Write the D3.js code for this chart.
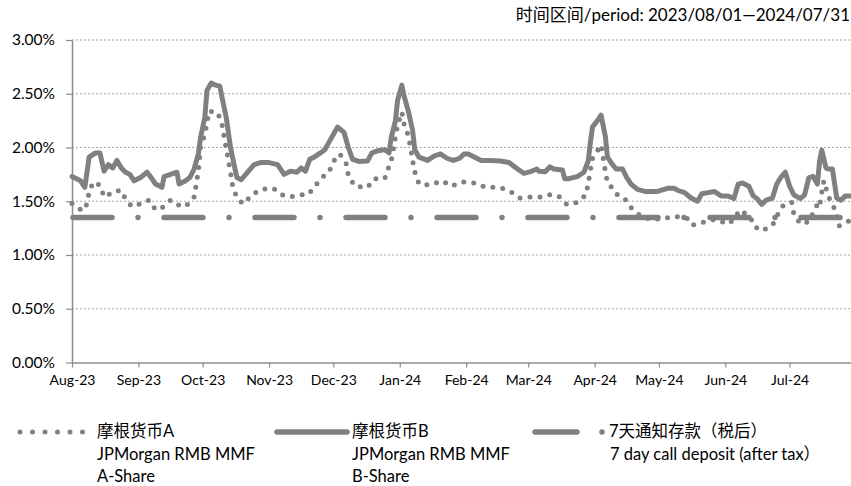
<!DOCTYPE html>
<html>
<head>
<meta charset="utf-8">
<script src="https://cdn.jsdelivr.net/npm/d3@7"></script>
<style>
  body { margin: 0; background: #fff; }
  svg { display: block; font-family: Lato, "Noto Sans CJK SC", sans-serif; }
</style>
</head>
<body>
<div id="chart"></div>
<script>
// Series A (dotted)
var datesA = ['2023-08-01','2023-08-06','2023-08-08','2023-08-09','2023-08-11','2023-08-14','2023-08-16','2023-08-18','2023-08-20','2023-08-24','2023-08-26','2023-08-29','2023-09-01','2023-09-06','2023-09-09','2023-09-12','2023-09-16','2023-09-19','2023-09-23','2023-09-27','2023-09-28','2023-09-29','2023-09-30','2023-10-02','2023-10-03','2023-10-04','2023-10-08','2023-10-10','2023-10-11','2023-10-12','2023-10-13','2023-10-14','2023-10-15','2023-10-17','2023-10-20','2023-10-24','2023-10-28','2023-11-03','2023-11-07','2023-11-11','2023-11-15','2023-11-19','2023-11-22','2023-11-25','2023-11-29','2023-12-01','2023-12-04','2023-12-07','2023-12-08','2023-12-11','2023-12-17','2023-12-20','2023-12-25','2023-12-26','2023-12-28','2023-12-29','2023-12-30','2023-12-31','2024-01-02','2024-01-03','2024-01-05','2024-01-06','2024-01-07','2024-01-08','2024-01-10','2024-01-15','2024-01-21','2024-01-25','2024-01-30','2024-02-05','2024-02-10','2024-02-16','2024-02-21','2024-02-26','2024-03-02','2024-03-07','2024-03-11','2024-03-15','2024-03-19','2024-03-24','2024-03-28','2024-03-29','2024-03-30','2024-03-31','2024-04-03','2024-04-04','2024-04-05','2024-04-06','2024-04-07','2024-04-09','2024-04-12','2024-04-15','2024-04-18','2024-04-22','2024-04-27','2024-05-03','2024-05-09','2024-05-13','2024-05-15','2024-05-17','2024-05-21','2024-05-26','2024-05-30','2024-06-03','2024-06-08','2024-06-13','2024-06-14','2024-06-18','2024-06-23','2024-06-25','2024-06-28','2024-07-02','2024-07-03','2024-07-06','2024-07-10','2024-07-14','2024-07-15','2024-07-16','2024-07-17','2024-07-19','2024-07-23','2024-07-24','2024-07-28','2024-07-31'];
var valuesA = [1.48,1.41,1.475,1.59,1.68,1.65,1.54,1.56,1.59,1.60,1.52,1.45,1.47,1.51,1.42,1.44,1.51,1.47,1.45,1.54,1.66,1.78,2.00,2.125,2.225,2.34,2.325,2.22,2.10,1.99,1.88,1.77,1.64,1.53,1.475,1.56,1.61,1.62,1.56,1.54,1.56,1.56,1.625,1.71,1.77,1.87,1.94,1.85,1.74,1.64,1.63,1.71,1.71,1.77,1.875,1.98,2.10,2.21,2.33,2.22,2.11,2.00,1.88,1.775,1.66,1.65,1.69,1.64,1.68,1.67,1.63,1.63,1.60,1.53,1.54,1.54,1.56,1.55,1.47,1.49,1.56,1.67,1.79,1.90,1.99,2.025,1.90,1.78,1.67,1.63,1.55,1.525,1.44,1.37,1.33,1.34,1.36,1.34,1.34,1.28,1.30,1.33,1.31,1.29,1.42,1.34,1.275,1.225,1.275,1.36,1.46,1.49,1.38,1.29,1.31,1.475,1.45,1.58,1.69,1.55,1.39,1.27,1.31,1.33];

// Series B (solid)
var datesB = ['2023-08-01','2023-08-05','2023-08-07','2023-08-09','2023-08-12','2023-08-14','2023-08-16','2023-08-18','2023-08-20','2023-08-22','2023-08-24','2023-08-26','2023-08-28','2023-08-30','2023-09-02','2023-09-05','2023-09-07','2023-09-09','2023-09-12','2023-09-13','2023-09-16','2023-09-19','2023-09-20','2023-09-23','2023-09-25','2023-09-27','2023-09-29','2023-09-30','2023-10-02','2023-10-03','2023-10-05','2023-10-07','2023-10-09','2023-10-10','2023-10-12','2023-10-14','2023-10-16','2023-10-17','2023-10-19','2023-10-22','2023-10-25','2023-10-28','2023-11-01','2023-11-05','2023-11-08','2023-11-11','2023-11-14','2023-11-16','2023-11-18','2023-11-20','2023-11-22','2023-11-25','2023-11-27','2023-11-29','2023-12-01','2023-12-03','2023-12-06','2023-12-08','2023-12-10','2023-12-13','2023-12-17','2023-12-19','2023-12-22','2023-12-25','2023-12-27','2023-12-28','2023-12-30','2023-12-31','2024-01-02','2024-01-03','2024-01-05','2024-01-07','2024-01-08','2024-01-10','2024-01-14','2024-01-17','2024-01-20','2024-01-23','2024-01-26','2024-01-29','2024-01-31','2024-02-02','2024-02-05','2024-02-08','2024-02-12','2024-02-17','2024-02-21','2024-02-25','2024-02-28','2024-03-02','2024-03-05','2024-03-06','2024-03-09','2024-03-11','2024-03-13','2024-03-17','2024-03-18','2024-03-20','2024-03-24','2024-03-27','2024-03-29','2024-03-30','2024-03-31','2024-04-03','2024-04-04','2024-04-06','2024-04-07','2024-04-09','2024-04-11','2024-04-14','2024-04-16','2024-04-18','2024-04-21','2024-04-25','2024-04-30','2024-05-05','2024-05-08','2024-05-10','2024-05-13','2024-05-16','2024-05-19','2024-05-21','2024-05-24','2024-05-27','2024-05-30','2024-06-02','2024-06-05','2024-06-07','2024-06-09','2024-06-12','2024-06-14','2024-06-16','2024-06-18','2024-06-20','2024-06-23','2024-06-25','2024-06-27','2024-06-29','2024-07-01','2024-07-03','2024-07-06','2024-07-08','2024-07-10','2024-07-12','2024-07-14','2024-07-15','2024-07-16','2024-07-18','2024-07-19','2024-07-21','2024-07-23','2024-07-25','2024-07-27','2024-07-31'];
var valuesB = [1.73,1.69,1.63,1.91,1.95,1.95,1.78,1.84,1.81,1.88,1.81,1.77,1.75,1.69,1.72,1.77,1.72,1.66,1.63,1.73,1.75,1.77,1.66,1.69,1.72,1.80,1.94,2.09,2.28,2.53,2.60,2.58,2.57,2.47,2.28,2.00,1.81,1.72,1.70,1.77,1.84,1.86,1.86,1.84,1.75,1.78,1.77,1.81,1.78,1.89,1.91,1.95,1.98,2.05,2.12,2.19,2.14,2.00,1.89,1.87,1.875,1.95,1.97,1.98,1.95,2.09,2.25,2.44,2.58,2.48,2.34,2.16,1.98,1.91,1.88,1.92,1.94,1.90,1.88,1.90,1.94,1.94,1.91,1.88,1.88,1.875,1.86,1.80,1.76,1.775,1.80,1.78,1.775,1.82,1.80,1.79,1.71,1.71,1.73,1.77,1.875,2.05,2.19,2.27,2.30,2.10,1.91,1.85,1.80,1.80,1.72,1.66,1.61,1.59,1.59,1.62,1.62,1.60,1.58,1.53,1.50,1.57,1.58,1.59,1.55,1.55,1.525,1.66,1.67,1.64,1.55,1.52,1.47,1.51,1.53,1.66,1.725,1.77,1.64,1.56,1.525,1.56,1.72,1.73,1.66,1.875,1.975,1.81,1.80,1.80,1.53,1.51,1.55,1.55];

// 7-day call deposit (after tax), flat rate
var depositDates = ['2023-08-01', '2024-07-31'];
var depositRate = 1.35;

var yTicks = [0, 0.5, 1, 1.5, 2, 2.5, 3];
var periodLabel = '时间区间/period: 2023/08/01—2024/07/31';
var legendItems = [
  { lines: ['摩根货币A', 'JPMorgan RMB MMF', 'A-Share'], kind: 'a' },
  { lines: ['摩根货币B', 'JPMorgan RMB MMF', 'B-Share'], kind: 'b' },
  { lines: ['7天通知存款（税后）', '7 day call deposit (after tax）'], kind: 'dep' }
];

var W = 851, H = 486;
var grey = '#808080';
var parse = d3.timeParse('%Y-%m-%d');

var x = d3.scaleTime()
  .domain([parse('2023-08-01'), parse('2024-08-01')])
  .range([72, 856]);
var y = d3.scaleLinear().domain([0, 3]).range([362.5, 40]);

var svg = d3.select('#chart').append('svg')
  .attr('width', W)
  .attr('height', H);

// Period text
svg.append('text')
  .attr('x', 850)
  .attr('y', 21)
  .attr('text-anchor', 'end')
  .style('font-size', '17px')
  .style('fill', '#000')
  .text(periodLabel);

// Gridlines
svg.append('g').selectAll('line')
  .data(yTicks.filter(function (d) { return d > 0; }))
  .enter().append('line')
  .attr('x1', 72).attr('x2', W)
  .attr('y1', function (d) { return y(d); })
  .attr('y2', function (d) { return y(d); })
  .style('stroke', '#a6a6a6')
  .style('stroke-width', 1)
  .style('stroke-dasharray', '2,2');

// Axes
var yAxis = svg.append('g')
  .attr('transform', 'translate(72,0)')
  .call(d3.axisLeft(y).tickValues(yTicks).tickSize(6).tickSizeOuter(0)
    .tickFormat(function (d) { return d.toFixed(2) + '%'; }));
var xAxis = svg.append('g')
  .attr('transform', 'translate(0,' + y(0) + ')')
  .call(d3.axisBottom(x)
    .tickValues(d3.timeMonth.range(parse('2023-08-01'), parse('2024-08-01')))
    .tickSize(5).tickSizeOuter(0)
    .tickFormat(d3.timeFormat('%b-%y')));

[yAxis, xAxis].forEach(function (g) {
  g.select('.domain').style('stroke', '#8c8c8c').style('stroke-width', 1.5);
  g.selectAll('.tick line').style('stroke', '#8c8c8c').style('stroke-width', 1.2);
  g.selectAll('text').style('font-family', 'Lato, sans-serif').style('fill', '#000');
});
yAxis.selectAll('text').style('font-size', '15.5px').attr('x', -17);
xAxis.selectAll('text').style('font-size', '14px').attr('y', 13);

function rows(dates, values) {
  return dates.map(function (d, i) { return { date: parse(d), v: values[i] }; });
}

var line = d3.line()
  .x(function (d) { return x(d.date); })
  .y(function (d) { return y(d.v); });

var depDash = '39,26,0,26';
var dotDash = '0,10';

// Deposit
svg.append('path')
  .datum(depositDates.map(function (d) { return { date: parse(d), v: depositRate }; }))
  .attr('d', line)
  .style('fill', 'none')
  .style('stroke', grey)
  .style('stroke-width', 5.5)
  .style('stroke-linecap', 'round')
  .style('stroke-dasharray', depDash)
  .style('stroke-dashoffset', -1);

// Series B
svg.append('path')
  .datum(rows(datesB, valuesB))
  .attr('d', line)
  .style('fill', 'none')
  .style('stroke', grey)
  .style('stroke-width', 5)
  .style('stroke-linejoin', 'round')
  .style('stroke-linecap', 'round');

// Series A
svg.append('path')
  .datum(rows(datesA, valuesA))
  .attr('d', line)
  .style('fill', 'none')
  .style('stroke', grey)
  .style('stroke-width', 5)
  .style('stroke-linecap', 'round')
  .style('stroke-dasharray', dotDash);

// Legend
var legendX = [[20, 83, 97], [277, 347, 352], [535, 606, 609]];
var lg = svg.append('g');
legendItems.forEach(function (item, i) {
  var p = legendX[i];
  var mark = lg.append('line')
    .attr('x1', p[0]).attr('x2', p[1])
    .attr('y1', 432).attr('y2', 432)
    .style('stroke', grey)
    .style('stroke-linecap', 'round');
  if (item.kind == 'a') {
    mark.style('stroke-width', 5).style('stroke-dasharray', '0,12.5');
  } else if (item.kind == 'b') {
    mark.style('stroke-width', 5.5);
  } else {
    mark.style('stroke-width', 5.5).style('stroke-dasharray', '42,25,0,30');
  }
  item.lines.forEach(function (t, j) {
    lg.append('text')
      .attr('x', p[2] + (item.kind == 'dep' && j > 0 ? 1 : 0))
      .attr('y', 437 + j * 22.5)
      .style('font-size', '16.5px')
      .style('fill', '#000')
      .text(t);
  });
});
</script>
</body>
</html>
